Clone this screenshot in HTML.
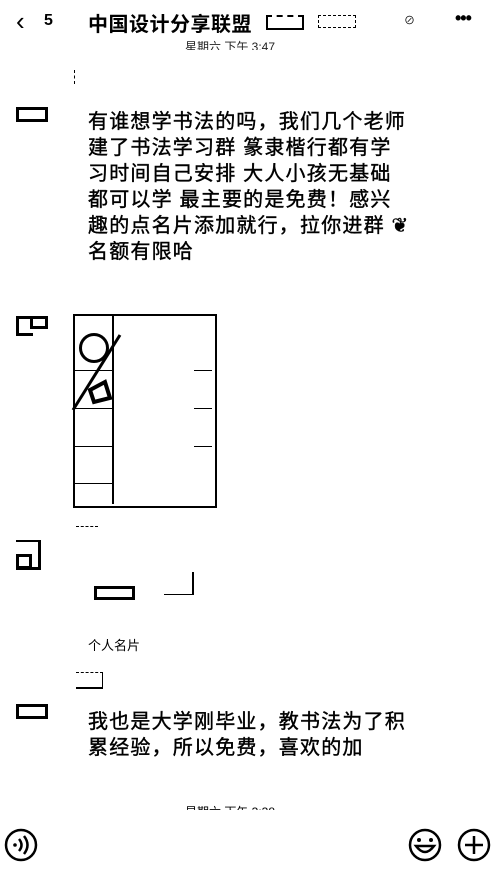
<!DOCTYPE html>
<html><head><meta charset="utf-8"><style>
body{margin:0;width:499px;height:877px;background:#fff;position:relative;overflow:hidden;font-family:"Liberation Sans","Noto Sans CJK SC",sans-serif;color:#000}
.a{position:absolute;white-space:nowrap}
.m{font-size:20px;letter-spacing:1.2px;line-height:26px;-webkit-text-stroke:0.4px #000}
.box{position:absolute;border:3px solid #000;background:#fff}
</style></head><body>
<div class="a" style="left:16px;top:6px;font-size:26px;line-height:30px">&#x2039;</div>
<div class="a" style="left:44px;top:12px;font-size:16px;font-weight:bold">5</div>
<div class="a" style="left:88px;top:8px;font-size:20px;font-weight:bold;letter-spacing:0.5px">中国设计分享联盟</div>
<div class="a" style="left:266px;top:15px;width:34px;height:11px;border:2px solid #000;border-top-style:dashed"></div>
<div class="a" style="left:318px;top:15px;width:36px;height:11px;border:1px dashed #000"></div>
<div class="a" style="left:404px;top:12px;font-size:11px">⊘</div>
<div class="a" style="left:455px;top:8px;font-size:18px;font-weight:bold;letter-spacing:-1px">•••</div>
<div class="a" style="left:185px;top:40px;height:10px;overflow:hidden;font-size:12px;line-height:14px;color:#222">星期六 下午 3:47</div>
<div class="a" style="left:74px;top:70px;width:6px;height:14px;border-left:1px dashed #000"></div>

<div class="box" style="left:16px;top:107px;width:26px;height:9px"></div>
<div class="a m" style="left:88px;top:109px">有谁想学书法的吗，我们几个老师<br>建了书法学习群 篆隶楷行都有学<br>习时间自己安排 大人小孩无基础<br>都可以学 最主要的是免费！感兴<br>趣的点名片添加就行，拉你进群 ❦<br>名额有限哈</div>

<div class="a" style="left:16px;top:316px;width:14px;height:14px;border:3px solid #000;border-right:none;border-bottom-width:3px"></div>
<div class="a" style="left:30px;top:316px;width:12px;height:7px;border:3px solid #000"></div>
<div class="a" style="left:73px;top:314px;width:140px;height:190px;border:2px solid #000"></div>
<div class="a" style="left:112px;top:316px;width:2px;height:188px;background:#000"></div>
<div class="a" style="left:75px;top:370px;width:37px;height:1px;background:#000"></div>
<div class="a" style="left:75px;top:408px;width:37px;height:1px;background:#000"></div>
<div class="a" style="left:75px;top:446px;width:37px;height:1px;background:#000"></div>
<div class="a" style="left:75px;top:483px;width:37px;height:1px;background:#000"></div>
<div class="a" style="left:194px;top:370px;width:18px;height:1px;background:#000"></div>
<div class="a" style="left:194px;top:408px;width:18px;height:1px;background:#000"></div>
<div class="a" style="left:194px;top:446px;width:18px;height:1px;background:#000"></div>
<div class="a" style="left:79px;top:333px;width:24px;height:24px;border:3px solid #000;border-radius:50%"></div>
<svg class="a" style="left:70px;top:330px" width="60" height="85"><line x1="50" y1="5" x2="3" y2="80" stroke="#000" stroke-width="3"/><path d="M20 60 L35 52 L40 68 L24 72Z" fill="none" stroke="#000" stroke-width="4"/></svg>

<div class="a" style="left:16px;top:540px;width:22px;height:25px;border:3px solid #000;border-left:none;border-top-width:2px"></div>
<div class="a" style="left:16px;top:554px;width:10px;height:9px;border:3px solid #000"></div>
<div class="a" style="left:76px;top:526px;width:22px;height:1px;border-top:1px dashed #000"></div>
<div class="box" style="left:94px;top:586px;width:35px;height:8px"></div>
<div class="a" style="left:164px;top:572px;width:28px;height:22px;border-right:2px solid #000;border-bottom:1px solid #000"></div>
<div class="a" style="left:88px;top:635px;font-size:13px">个人名片</div>
<div class="a" style="left:76px;top:672px;width:26px;height:14px;border-top:1px dashed #000;border-bottom:2px solid #000;border-right:1px solid #000"></div>

<div class="box" style="left:16px;top:704px;width:26px;height:9px"></div>
<div class="a m" style="left:88px;top:709px">我也是大学刚毕业，教书法为了积<br>累经验，所以免费，喜欢的加</div>

<div class="a" style="left:185px;top:802px;height:8px;overflow:hidden;font-size:12px;line-height:20px;color:#000">星期六 下午 3:38</div>

<svg class="a" style="left:0;top:826px" width="499" height="40">
<circle cx="21" cy="19" r="15" fill="none" stroke="#000" stroke-width="2.5"/>
<circle cx="15" cy="19" r="1.8"/>
<path d="M19 13 Q24 19 19 25" fill="none" stroke="#000" stroke-width="2.5"/>
<path d="M24 10 Q31 19 24 28" fill="none" stroke="#000" stroke-width="2.5"/>
<circle cx="425" cy="19" r="15" fill="none" stroke="#000" stroke-width="2.5"/>
<circle cx="419" cy="14" r="2"/><circle cx="431" cy="14" r="2"/>
<path d="M416 20 Q425 32 434 20 Z" fill="none" stroke="#000" stroke-width="2.5"/>
<circle cx="474" cy="19" r="15" fill="none" stroke="#000" stroke-width="2.5"/>
<line x1="474" y1="10" x2="474" y2="28" stroke="#000" stroke-width="2.5"/>
<line x1="465" y1="19" x2="483" y2="19" stroke="#000" stroke-width="2.5"/>
</svg>
</body></html>
